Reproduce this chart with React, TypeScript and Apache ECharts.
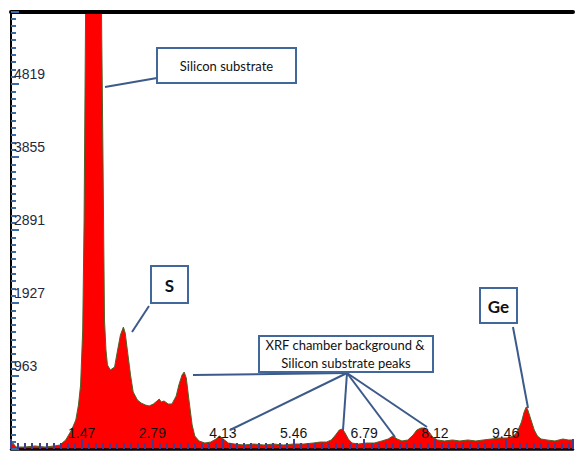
import React, { useEffect, useRef } from "react";
import * as echarts from "echarts";

// Spectrum: energy (keV) and counts
const energyKeV: number[] = [
  0.14, 0.177, 0.234, 0.4, 0.59, 0.78, 0.96, 1.06, 1.17, 1.28, 1.36, 1.41, 1.45, 1.49, 1.516, 1.544,
  1.58, 1.64, 1.69, 1.75, 1.81, 1.844, 1.872, 1.9, 1.928, 1.956, 2.01, 2.09, 2.14, 2.2, 2.256, 2.29,
  2.33, 2.39, 2.44, 2.52, 2.59, 2.67, 2.74, 2.82, 2.89, 2.93, 2.97, 3.02, 3.1, 3.17, 3.25, 3.3, 3.36,
  3.4, 3.44, 3.49, 3.55, 3.6, 3.68, 3.79, 3.9, 4.0, 4.07, 4.16, 4.23, 4.35, 4.52, 4.71, 4.9, 5.08,
  5.27, 5.46, 5.65, 5.83, 5.96, 6.08, 6.17, 6.25, 6.32, 6.38, 6.43, 6.49, 6.56, 6.68, 6.83, 6.98,
  7.12, 7.24, 7.33, 7.41, 7.5, 7.61, 7.71, 7.78, 7.86, 7.93, 8.01, 8.08, 8.17, 8.3, 8.45, 8.59, 8.74,
  8.89, 9.03, 9.18, 9.33, 9.48, 9.6, 9.67, 9.75, 9.8, 9.84, 9.87, 9.93, 9.99, 10.05, 10.12, 10.23,
  10.38, 10.53, 10.63, 10.72,
];
const counts: number[] = [
  40, 79, 26, 26, 40, 26, 40, 53, 119, 251, 383, 581, 845, 1571, 3023, 5770,
  9000, 13000, 15000, 13000, 9000, 5770, 3815, 1703, 1307, 1109, 1043, 1082, 1280, 1505, 1610, 1531,
  1307, 977, 752, 647, 607, 581, 568, 594, 634, 660, 620, 634, 594, 594, 700, 845, 977,
  1016, 937, 647, 317, 172, 106, 79, 92, 132, 172, 119, 79, 66, 53, 66, 53, 66,
  53, 66, 66, 79, 92, 92, 119, 185, 251, 264, 211, 132, 79, 66, 79, 79,
  106, 132, 172, 132, 106, 119, 185, 251, 277, 277, 224, 158, 119, 106, 119, 106, 119,
  106, 119, 132, 145, 145, 172, 224, 356, 489, 555, 515, 383, 251, 172, 132, 119,
  106, 132, 119, 119,
];

const xStartKeV = 0.14;
const xStep = 1.33;
const xTickLabels: string[] = ["", "1.47", "2.79", "4.13", "5.46", "6.79", "8.12", "9.46"];
const yStep = 963.8;
const yTickLabels: string[] = ["", "963", "1927", "2891", "3855", "4819"];
const yMax = 5770;
const xMaxKeV = 10.72;

export default function App() {
  const ref = useRef<HTMLDivElement>(null);
  useEffect(() => {
    document.body.style.margin = "0";
    if (!ref.current) return;
    const chart = echarts.init(ref.current, undefined, { renderer: "svg" });
    const data = energyKeV.map((e, i) => [e - xStartKeV, counts[i]]);
    const lineColor = "#3c5a8a";
    const boxStroke = "#41679b";
    const txtFont = "Lato, 'Open Sans', sans-serif";
    const line = (x1: number, y1: number, x2: number, y2: number) => ({
      type: "line",
      shape: { x1, y1, x2, y2 },
      style: { stroke: lineColor, lineWidth: 2 },
      z: 100,
    });
    const box = (x: number, y: number, width: number, height: number) => ({
      type: "rect",
      shape: { x, y, width, height },
      style: { fill: "#ffffff", stroke: boxStroke, lineWidth: 2 },
      z: 100,
    });
    const text = (x: number, y: number, t: string, size: number, bold: boolean) => ({
      type: "text",
      x,
      y,
      style: {
        text: t,
        fill: "#111111",
        font: `${bold ? "bold " : ""}${size}px ${txtFont}`,
        align: "center",
        verticalAlign: "middle",
      },
      z: 101,
    });
    chart.setOption({
      animation: false,
      backgroundColor: "#ffffff",
      grid: { left: 11, right: 0, top: 12, bottom: 6 },
      xAxis: [
        {
          type: "value",
          min: 0,
          max: xMaxKeV - xStartKeV,
          interval: xStep,
          z: 5,
          axisLine: { show: true, lineStyle: { color: "#000000", width: 2.5 } },
          axisTick: { show: true, inside: true, length: 10, lineStyle: { color: "#3d3d96", width: 2 } },
          minorTick: { show: true, splitNumber: 10, length: 6, lineStyle: { color: "#3d3d96", width: 2 } },
          splitLine: { show: false },
          axisLabel: {
            inside: true,
            margin: 9,
            color: "#141414",
            fontSize: 14,
            fontFamily: "'Liberation Sans Narrow', 'Liberation Sans', sans-serif",
            formatter: (v: number) => xTickLabels[Math.round(v / xStep)] ?? "",
          },
        },
        {
          type: "value",
          position: "top",
          min: 0,
          max: xMaxKeV - xStartKeV,
          z: 5,
          axisLine: { show: true, lineStyle: { color: "#000000", width: 4 } },
          axisTick: { show: false },
          axisLabel: { show: false },
          splitLine: { show: false },
        },
      ],
      yAxis: {
        type: "value",
        min: 0,
        max: yMax,
        interval: yStep,
        z: 5,
        axisLine: { show: true, lineStyle: { color: "#000000", width: 2 } },
        axisTick: { show: true, inside: true, length: 8, lineStyle: { color: "#3a6aa8", width: 2 } },
        minorTick: { show: true, splitNumber: 10, length: 5, lineStyle: { color: "#3a6aa8", width: 2 } },
        splitLine: { show: false },
        axisLabel: {
          inside: true,
          margin: 3,
          verticalAlign: "bottom",
          padding: [0, 0, 3, 0],
          color: "#1f2a40",
          fontSize: 14,
          fontFamily: "'Liberation Sans Narrow', 'Liberation Sans', sans-serif",
          formatter: (v: number) => yTickLabels[Math.round(v / yStep)] ?? "",
        },
      },
      series: [
        {
          type: "line",
          data,
          showSymbol: false,
          clip: true,
          lineStyle: { color: "#4f6228", width: 1 },
          areaStyle: { color: "#ff0000", opacity: 1 },
          z: 2,
        },
      ],
      graphic: [
        line(105, 87, 157, 78),
        box(157, 48, 139, 35),
        text(226.5, 66, "Silicon substrate", 13, false),
        line(149, 306, 132, 332),
        box(151, 266, 37, 37),
        text(169.5, 285, "S", 17, true),
        line(193, 375, 347, 373),
        line(347, 373, 230, 430),
        line(347, 373, 343, 430),
        line(347, 373, 395, 437),
        line(347, 373, 427, 427),
        box(259, 336, 174, 36),
        text(345, 345, "XRF chamber background &", 13, false),
        text(346, 363, "Silicon substrate peaks", 13, false),
        line(513, 327, 528, 408),
        box(480, 288, 37, 35),
        text(498.5, 306, "Ge", 17, true),
      ],
    });
    return () => chart.dispose();
  }, []);
  return (
    <div
      ref={ref}
      style={{ position: "absolute", left: 0, top: 0, width: 576, height: 455 }}
    />
  );
}
